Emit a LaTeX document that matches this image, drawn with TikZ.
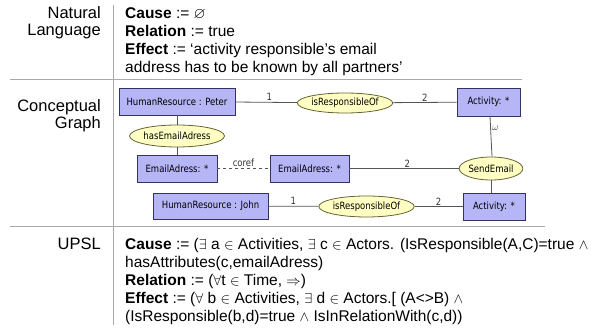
\documentclass[tikz,border=0pt]{standalone}
\usepackage{amssymb}
\usepackage{fontspec}
\setmainfont{Liberation Sans}
\newfontfamily\cgfont[FakeStretch=0.85]{DejaVu Sans}
\usetikzlibrary{shapes.geometric}

\definecolor{boxfill}{RGB}{182,182,246}
\definecolor{boxline}{RGB}{50,50,100}
\definecolor{ellfill}{RGB}{255,255,196}
\definecolor{ellline}{RGB}{100,100,50}
\definecolor{arcgray}{RGB}{85,85,85}
\definecolor{rulegray}{RGB}{170,170,170}

\tikzset{
  concept/.style={rectangle, draw=boxline, fill=boxfill, line width=0.8pt,
    inner sep=0pt, font=\cgfont\fontsize{10}{11}\selectfont},
  relation/.style={ellipse, draw=ellline, fill=ellfill, line width=0.8pt,
    inner sep=0pt, font=\cgfont\fontsize{10}{11}\selectfont},
  arc/.style={draw=arcgray, line width=0.8pt},
  elabel/.style={font=\cgfont\fontsize{10}{11}\selectfont, inner sep=1pt, text=black!80},
  divider/.style={draw=rulegray, line width=0.7pt},
  % multi-line nodes: the base anchor sits on the last line
  sidelabel/.style={anchor=base east, align=right, inner sep=0pt,
    font=\fontsize{16.5}{17}\selectfont},
  body/.style={anchor=base west, align=left, inner sep=0pt,
    font=\fontsize{15.5}{18}\selectfont}
}

\begin{document}
\begin{tikzpicture}[x=1pt, y=-1pt]
  \useasboundingbox (0,0) rectangle (596,328);

  % section dividers
  \coordinate (vtop) at (113,5);
  \coordinate (vbot) at (113,325);
  \coordinate (h1l) at (10,79);
  \coordinate (h1r) at (522,79);
  \coordinate (h2l) at (10,226);
  \coordinate (h2r) at (545,226);
  \draw[divider] (vtop) -- (vbot);
  \draw[divider] (h1l) -- (h1r);
  \draw[divider] (h2l) -- (h2r);

  % row headings
  \node[sidelabel] (nl) at (101,36) {Natural\\Language};
  \node[sidelabel] (cg) at (101,129) {Conceptual\\Graph};
  \node[sidelabel] (up) at (101,250) {UPSL};

  % natural language statement
  \node[body] (nltext) at (125,73) {%
    \textbf{Cause} := $\varnothing$\\
    \textbf{Relation} := true\\
    \textbf{Effect} := `activity responsible's email\\
    address has to be known by all partners'};

  % conceptual graph
  \node[concept, minimum width=116pt, minimum height=27pt] (hrP) at (177,101.5) {HumanResource : Peter};
  \node[relation, minimum width=80pt, minimum height=20pt] (isR1) at (345,103) {isResponsibleOf};
  \node[concept, minimum width=63pt, minimum height=28pt] (act1) at (488.5,102) {Activity: *};
  \node[relation, minimum width=81pt, minimum height=22pt] (hasE) at (177,136) {hasEmailAdress};
  \node[concept, minimum width=80pt, minimum height=27pt] (em1) at (177,168.5) {EmailAdress: *};
  \node[concept, minimum width=79pt, minimum height=27pt] (em2) at (309.5,168.5) {EmailAdress: *};
  \node[relation, minimum width=54pt, minimum height=23pt] (send) at (491,168.5) {SendEmail};
  \node[concept, minimum width=115pt, minimum height=26pt] (hrJ) at (210.5,206) {HumanResource : John};
  \node[relation, minimum width=77pt, minimum height=21pt] (isR2) at (366.5,206.5) {isResponsibleOf};
  \node[concept, minimum width=62pt, minimum height=27pt] (act2) at (494,206.5) {Activity: *};

  \draw[arc] (hrP) -- node[elabel, above, pos=0.55] {1} (isR1);
  \draw[arc] (isR1) -- node[elabel, above] {2} (act1);
  \draw[arc] (hrP) -- (hasE);
  \draw[arc] (hasE) -- (em1);
  \draw[arc, dashed] (em1) -- node[elabel, above] {coref} (em2);
  \draw[arc] (em2) -- node[elabel, above, pos=0.53] {2} (send);
  \draw[arc] (act1.south -| 490,0) -- node[elabel, right, pos=0.3] {$\omega$} (send.north -| 492,0);
  \draw[arc] (send) -- (send |- act2.north);
  \draw[arc] (hrJ) -- node[elabel, above, pos=0.5] {1} (isR2);
  \draw[arc] (isR2) -- node[elabel, above] {2} (act2);

  % UPSL statement
  \node[body] (upsltext) at (125,321) {%
    \textbf{Cause} := ($\exists$ a $\in$ Activities, $\exists$ c $\in$ Actors. (IsResponsible(A,C)=true $\wedge$\\
    hasAttributes(c,emailAdress)\\
    \textbf{Relation} := ($\forall$t $\in$ Time, $\Rightarrow$)\\
    \textbf{Effect} := ($\forall$ b $\in$ Activities, $\exists$ d $\in$ Actors.[ (A<>B) $\wedge$\\
    (IsResponsible(b,d)=true $\wedge$ IsInRelationWith(c,d))};
\end{tikzpicture}
\end{document}
